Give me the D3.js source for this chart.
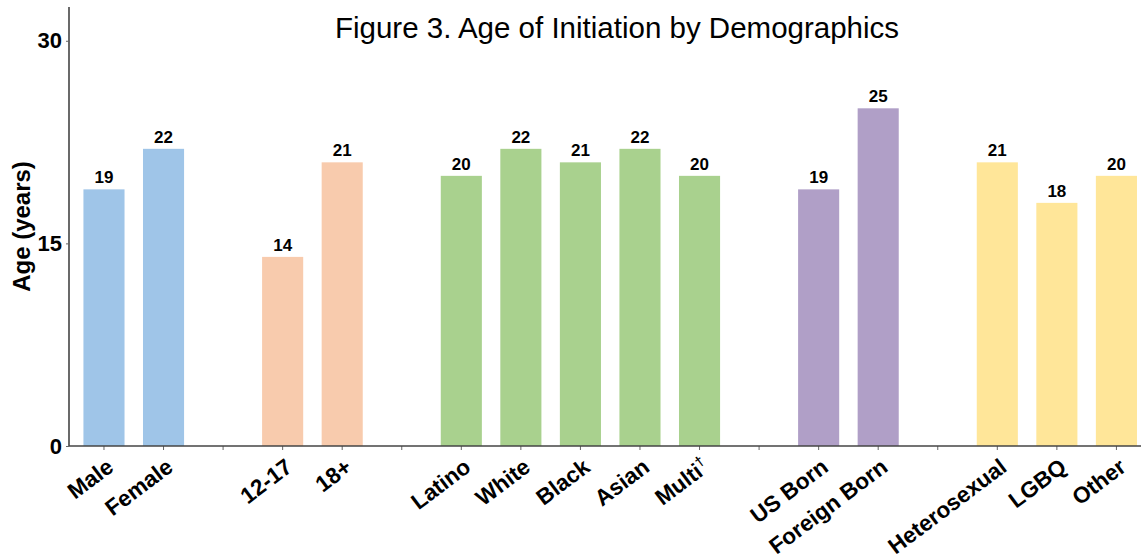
<!DOCTYPE html>
<html>
<head>
<meta charset="utf-8">
<script src="https://cdn.jsdelivr.net/npm/d3@7"></script>
<style>
  body { margin: 0; background: #fff; }
  text { font-family: Arial, "Liberation Sans", sans-serif; }
</style>
</head>
<body>
<svg id="chart" width="1141" height="555"></svg>
<script>
// categories, values and the group each bar belongs to
const categories = ['Male', 'Female', '12-17', '18+', 'Latino', 'White', 'Black', 'Asian', 'Multi†',
  'US Born', 'Foreign Born', 'Heterosexual', 'LGBQ', 'Other'];
const ages = [19, 22, 14, 21, 20, 22, 21, 22, 20, 19, 25, 21, 18, 20];
const groups = ['gender', 'gender', 'age', 'age', 'race', 'race', 'race', 'race', 'race',
  'nativity', 'nativity', 'orientation', 'orientation', 'orientation'];
const groupNames = ['gender', 'age', 'race', 'nativity', 'orientation'];
const groupColors = ['#9fc5e8', '#f8cbad', '#a9d18e', '#b09fc7', '#ffe699'];
const yTicks = [0, 15, 30];
const title = 'Figure 3. Age of Initiation by Demographics';

const width = 1141;
const height = 555;
const margin = { top: 7, right: 0, bottom: 109, left: 69 };

const svg = d3.select('#chart');

// one blank slot between groups
const slots = [];
categories.forEach((c, i) => {
  if (i > 0 && groups[i] !== groups[i - 1]) slots.push('gap' + i);
  slots.push(c);
});

const step = (width - margin.left) / slots.length;
const x = d3.scaleBand()
  .domain(slots)
  .range([margin.left + 5.2, margin.left + 5.2 + step * slots.length])
  .paddingInner(0.31)
  .paddingOuter(0.155);

const y = d3.scaleLinear()
  .domain([0, 32.5])
  .range([height - margin.bottom, margin.top]);

const color = d3.scaleOrdinal().domain(groupNames).range(groupColors);

// bars
svg.append('g')
  .selectAll('rect')
  .data(categories)
  .enter()
  .append('rect')
  .attr('x', (d) => x(d))
  .attr('y', (d, i) => y(ages[i]))
  .attr('width', x.bandwidth())
  .attr('height', (d, i) => y(0) - y(ages[i]))
  .attr('fill', (d, i) => color(groups[i]));

// value labels
svg.append('g')
  .selectAll('text')
  .data(categories)
  .enter()
  .append('text')
  .attr('x', (d) => x(d) + x.bandwidth() / 2)
  .attr('y', (d, i) => y(ages[i]) - 6)
  .attr('text-anchor', 'middle')
  .style('font-size', '17px')
  .style('font-weight', 'bold')
  .text((d, i) => ages[i]);

// x axis (ticks at every slot, incl. blanks)
const xAxis = svg.append('g')
  .attr('transform', `translate(0, ${y(0)})`)
  .call(d3.axisBottom(x).tickSize(4).tickFormat(''));
xAxis.select('.domain').remove();
xAxis.selectAll('.tick line').attr('stroke', '#666');

svg.append('line')
  .attr('x1', margin.left)
  .attr('x2', width)
  .attr('y1', y(0))
  .attr('y2', y(0))
  .attr('stroke', '#444')
  .attr('stroke-width', 1.6);

// rotated category labels
const labels = svg.append('g')
  .selectAll('text')
  .data(categories)
  .enter()
  .append('text')
  .attr('transform', (d) => `translate(${x(d) + x.bandwidth() / 2 + 11}, ${y(0) + 24}) rotate(-37)`)
  .attr('text-anchor', 'end')
  .style('font-size', '22.5px')
  .style('font-weight', 'bold');

labels.each(function (d) {
  const t = d3.select(this);
  if (d.endsWith('†')) {
    t.append('tspan').text(d.slice(0, -1));
    t.append('tspan')
      .attr('dy', -9)
      .style('font-size', '14px')
      .text('†');
  } else {
    t.text(d);
  }
});

// y axis
const yAxis = svg.append('g')
  .attr('transform', `translate(${margin.left}, 0)`)
  .call(d3.axisLeft(y).tickValues(yTicks).tickSize(3).tickPadding(4));
yAxis.select('.domain')
  .attr('d', `M0,${margin.top}V${y(0)}`)
  .attr('stroke', '#444')
  .attr('stroke-width', 1.6);
yAxis.selectAll('.tick line').attr('stroke', '#666');
yAxis.selectAll('.tick text')
  .style('font-size', '22px')
  .style('font-weight', 'bold')
  .style('font-family', 'Arial, "Liberation Sans", sans-serif')
  .attr('fill', '#000');

svg.append('text')
  .attr('transform', 'rotate(-90)')
  .attr('x', -(y(0) + margin.top) / 2)
  .attr('y', 30)
  .attr('text-anchor', 'middle')
  .style('font-size', '24px')
  .style('font-weight', 'bold')
  .text('Age (years)');

// title
svg.append('text')
  .attr('x', 617)
  .attr('y', 38)
  .attr('text-anchor', 'middle')
  .style('font-size', '29.5px')
  .text(title);
</script>
</body>
</html>
